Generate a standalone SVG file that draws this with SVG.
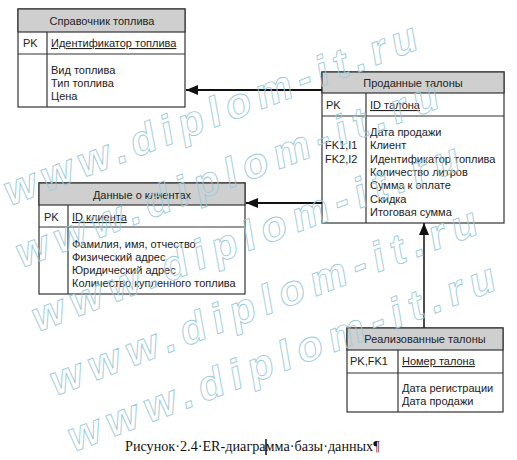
<svg xmlns="http://www.w3.org/2000/svg" width="517" height="460" viewBox="0 0 517 460">
<style>
.box{fill:#fff;stroke:#333;stroke-width:1.2}
.hdr{fill:#cfcfcf;stroke:#333;stroke-width:1.2}
.ln{stroke:#333;stroke-width:1.2;fill:none}
.t{font-family:"Liberation Sans",Arial,sans-serif;font-size:11px;fill:#222}
.c{text-anchor:middle}
.u{text-decoration:underline}
.con{stroke:#111;fill:none}
.cap{font-family:"Liberation Serif","Times New Roman",serif;font-size:14.2px;fill:#111}
.wm{font-family:"Liberation Sans",Arial,sans-serif;font-size:42px;font-weight:bold;font-style:italic;fill:none;stroke:#9ccbdc;stroke-width:0.9}
</style>
<defs>
<marker id="ah" viewBox="0 0 12 10" refX="12" refY="5" markerWidth="12" markerHeight="10" markerUnits="userSpaceOnUse" orient="auto">
<path d="M0,0 L12,5 L0,10 Z" fill="#111"/>
</marker>
</defs>

<g id="spravochnik">
<rect class="box" x="18" y="9" width="167" height="98"/>
<rect class="hdr" x="18" y="9" width="167" height="23"/>
<line class="ln" x1="18" y1="54" x2="185" y2="54"/>
<line class="ln" x1="47" y1="32" x2="47" y2="107"/>
<text class="t c" x="102" y="25">Справочник топлива</text>
<text class="t" x="23" y="47">PK</text>
<text class="t u" x="51" y="47">Идентификатор топлива</text>
<text class="t" x="51" y="74">Вид топлива</text>
<text class="t" x="51" y="87">Тип топлива</text>
<text class="t" x="51" y="100">Цена</text>
</g>

<g id="prodannye">
<rect class="box" x="322" y="72" width="182" height="151"/>
<rect class="hdr" x="322" y="72" width="182" height="21"/>
<line class="ln" x1="322" y1="116" x2="504" y2="116"/>
<line class="ln" x1="366" y1="93" x2="366" y2="223"/>
<text class="t c" x="413" y="87">Проданные талоны</text>
<text class="t" x="326" y="109">PK</text>
<text class="t u" x="370" y="109">ID талона</text>
<text class="t" x="370" y="136">Дата продажи</text>
<text class="t" x="325" y="149.3">FK1,I1</text>
<text class="t" x="370" y="149.3">Клиент</text>
<text class="t" x="325" y="162.6">FK2,I2</text>
<text class="t" x="370" y="162.6">Идентификатор топлива</text>
<text class="t" x="370" y="175.9">Количество литров</text>
<text class="t" x="370" y="189.2">Сумма к оплате</text>
<text class="t" x="370" y="202.5">Скидка</text>
<text class="t" x="370" y="215.8">Итоговая сумма</text>
</g>

<g id="klienty">
<rect class="box" x="39" y="183" width="206" height="111"/>
<rect class="hdr" x="39" y="183" width="206" height="22"/>
<line class="ln" x1="39" y1="227" x2="245" y2="227"/>
<line class="ln" x1="68" y1="205" x2="68" y2="294"/>
<text class="t c" x="142" y="199">Данные о клиентах</text>
<text class="t" x="44" y="221">PK</text>
<text class="t u" x="72" y="221">ID клиента</text>
<text class="t" x="72" y="248">Фамилия, имя, отчество</text>
<text class="t" x="72" y="261">Физический адрес</text>
<text class="t" x="72" y="274">Юридический адрес</text>
<text class="t" x="72" y="287">Количество купленного топлива</text>
</g>

<g id="realizovannye">
<rect class="box" x="347" y="328" width="156" height="84"/>
<rect class="hdr" x="347" y="328" width="156" height="22"/>
<line class="ln" x1="347" y1="373" x2="503" y2="373"/>
<line class="ln" x1="398" y1="350" x2="398" y2="412"/>
<text class="t c" x="425" y="343">Реализованные талоны</text>
<text class="t" x="350" y="365">PK,FK1</text>
<text class="t u" x="402" y="365">Номер талона</text>
<text class="t" x="402" y="392">Дата регистрации</text>
<text class="t" x="402" y="405">Дата продажи</text>
</g>

<g id="connectors">
<line class="con" x1="322" y1="90" x2="186" y2="90" stroke-width="2" marker-end="url(#ah)"/>
<line class="con" x1="322" y1="203" x2="246" y2="203" stroke-width="2" marker-end="url(#ah)"/>
<line class="con" x1="424" y1="328" x2="424" y2="223" stroke-width="1.5" marker-end="url(#ah)"/>
</g>

<g id="caption">
<text class="cap" x="125" y="451">Рисунок·2.4·ER-диаграмма·базы·данных¶</text>
<line x1="266" y1="439" x2="266" y2="455" stroke="#111" stroke-width="1.5"/>
</g>

<g id="watermark">
<text class="wm" x="10" y="206" transform="rotate(-21 10 206)" textLength="440" lengthAdjust="spacing">www.diplom-it.ru</text>
<text class="wm" x="22" y="268" transform="rotate(-21 22 268)" textLength="450" lengthAdjust="spacing">www.diplom-it.ru</text>
<text class="wm" x="38" y="332" transform="rotate(-21 38 332)" textLength="455" lengthAdjust="spacing">www.diplom-it.ru</text>
<text class="wm" x="56" y="396" transform="rotate(-21 56 396)" textLength="455" lengthAdjust="spacing">www.diplom-it.ru</text>
<text class="wm" x="74" y="452" transform="rotate(-21 74 452)" textLength="455" lengthAdjust="spacing">www.diplom-it.ru</text>
</g>
</svg>
